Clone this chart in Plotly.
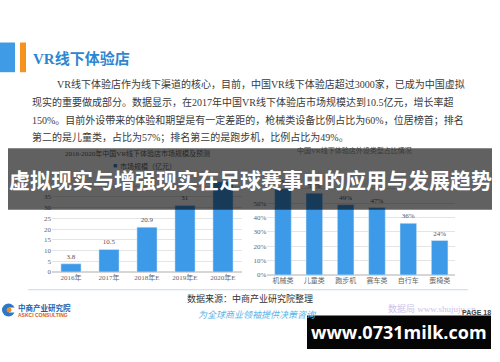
import plotly.graph_objects as go

# ---- data ----
years = ["2016年", "2017年", "2018年E", "2019年E", "2020年E"]
market_size = [3.8, 10.5, 20.9, 31, 42]            # 亿元
size_labels = ["3.8", "10.5", "20.9", "31", ""]    # last one sits behind the title band
device_types = ["机械类", "儿童类", "跑步机", "赛车类", "自行车", "蛋椅类"]
device_share = [60, 57, 49, 47, 36, 24]            # %
size_ticks = [0, 5, 10, 15, 20, 25, 30, 35, 40, 45]
size_tick_text = ["0", "5", "10", "15", "20", "25", "30", "35", "", ""]
share_ticks = [0, 10, 20, 30, 40, 50, 60, 70]
share_tick_text = ["0%", "10%", "20%", "30%", "40%", "50%", "", ""]

paragraph = [
    "VR线下体验店作为线下渠道的核心，目前，中国VR线下体验店超过3000家，已成为中国虚拟",
    "现实的重要做成部分。数据显示，在2017年中国VR线下体验店市场规模达到10.5亿元，增长率超",
    "150%。目前外设带来的体验和期望是有一定差距的，枪械类设备比例占比为60%，位居榜首；排名",
    "第二的是儿童类，占比为57%；排名第三的是跑步机，比例占比为49%。",
]

W, H = 500, 362
BLUE = "#3d9ae8"
SERIF = "Liberation Serif, Noto Sans CJK SC"
SANS = "Noto Sans CJK SC"


def px(x):
    return x / W


def py(y):
    return 1 - y / H


fig = go.Figure()

fig.add_trace(go.Bar(
    x=years, y=market_size, marker_color=BLUE,
    text=size_labels, textposition="outside",
    textfont=dict(family=SERIF, size=7, color="#555"),
    cliponaxis=False, xaxis="x", yaxis="y", showlegend=False,
))
fig.add_trace(go.Bar(
    x=device_types, y=device_share, marker_color=BLUE,
    text=[f"{v}%" for v in device_share], textposition="outside",
    textfont=dict(family=SERIF, size=7, color="#555"),
    cliponaxis=False, xaxis="x2", yaxis="y2", showlegend=False,
))

tickfont = dict(family=SERIF, size=7, color="#666")
axis_common = dict(showline=False, ticks="", fixedrange=True, tickfont=tickfont)

fig.update_layout(
    width=W, height=H, autosize=False,
    margin=dict(l=0, r=0, t=0, b=0),
    paper_bgcolor="white", plot_bgcolor="white",
    bargap=0.47,
    xaxis=dict(domain=[px(52), px(242)], anchor="y", showgrid=False, **axis_common),
    yaxis=dict(domain=[py(275), py(177.4)], anchor="x", range=[0, 45],
               tickvals=size_ticks, ticktext=size_tick_text,
               showgrid=True, gridcolor="#e4e4e4",
               zeroline=True, zerolinecolor="#d6d6d6", **axis_common),
    xaxis2=dict(domain=[px(267.3), px(455.3)], anchor="y2", showgrid=False, **axis_common),
    yaxis2=dict(domain=[py(278), py(176.5)], anchor="x2", range=[0, 70],
                tickvals=share_ticks, ticktext=share_tick_text,
                showgrid=True, gridcolor="#e4e4e4",
                zeroline=True, zerolinecolor="#d6d6d6", **axis_common),
)

shapes = []
annotations = []


def rect(x0, y0, x1, y1, color, layer="above"):
    shapes.append(dict(type="rect", xref="paper", yref="paper",
                       x0=px(x0), x1=px(x1), y0=py(y1), y1=py(y0),
                       fillcolor=color, line=dict(width=0), layer=layer))


def text(x, y, s, size, color, family=SERIF, xanchor="center", **kw):
    annotations.append(dict(xref="paper", yref="paper", x=px(x), y=py(y),
                            text=s, showarrow=False, xanchor=xanchor, yanchor="middle",
                            font=dict(family=family, size=size, color=color), **kw))


# section header
rect(0, 43, 15, 73, "#3f9be6")
rect(20, 43, 26, 73, "#f6921e")
text(31, 59, "<b>VR线下体验店</b>", 15, "#2f86d0", family=SERIF, xanchor="left")

# body paragraph
line_y = [85, 103, 121, 139]
for i, (s, yy) in enumerate(zip(paragraph, line_y)):
    text(55 if i == 0 else 30, yy, s, 10, "#3a3a3a", xanchor="left")

# chart titles and legend (sit under the dark banner)
text(137, 155, "2016-2020年中国VR线下体验店市场规模及预测", 7, "#262626")
text(111, 168, "■", 7, "#163250", xanchor="left")
text(118, 168, "市场规模（亿元）", 7, "#262626", xanchor="left")
text(354, 152, "中国VR线下体验店外设类型占比情况", 7, "#3a3a3a")

# separator under charts
shapes.append(dict(type="line", xref="paper", yref="paper",
                   x0=px(28), x1=px(468), y0=py(293), y1=py(293),
                   line=dict(color="#bcdcf2", width=1.2)))

# source note
text(250, 302, "数据来源：中商产业研究院整理", 9, "#333")

# logo
shapes.append(dict(type="circle", xref="paper", yref="paper",
                   x0=px(2), x1=px(15), y0=py(320), y1=py(307),
                   fillcolor="#2a78c8", line=dict(width=0), layer="above"))
rect(9, 311, 16, 316, "white")
shapes.append(dict(type="circle", xref="paper", yref="paper",
                   x0=px(6.5), x1=px(11.5), y0=py(316), y1=py(311),
                   fillcolor="#f08a2a", line=dict(width=0), layer="above"))
text(16, 311, "<b>中商产业研究院</b>", 7.5, "#1d5fae", family=SANS, xanchor="left")
text(16, 318.5, "<b>ASKCI CONSULTING</b>", 5, "#d9582a", family="Liberation Sans", xanchor="left")

# footer slogan, watermark, page number
text(257, 319, "<i>为全球商业领袖提供决策咨询</i>", 9, "#5ab4e8", family=SERIF)
text(432, 312, "数据局 www.shujuju.cn", 9, "#cbc3ea", family=SERIF)
text(476, 315.5, "<b>PAGE 18</b>", 7, "#444", family="Liberation Sans")

# dark banner with the page title
rect(8, 150, 492, 212, "rgba(0,0,0,0.62)")
text(250, 181, "<b>虚拟现实与增强现实在足球赛事中的应用与发展趋势</b>", 21, "white", family=SANS)

# site badge
rect(307, 319, 491, 353, "#050505")
text(399, 336, "<b>www.0731milk.com</b>", 18, "white", family="Open Sans")

fig.update_layout(shapes=shapes, annotations=annotations)
fig.write_html("out.html")
